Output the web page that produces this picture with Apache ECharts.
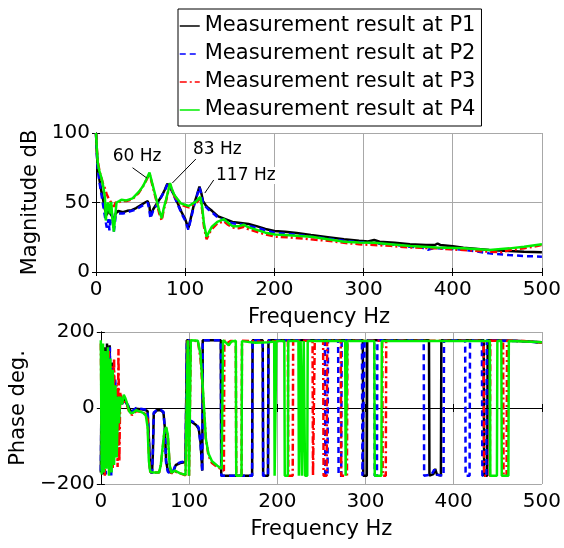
<!DOCTYPE html>
<html><head><meta charset="utf-8">
<script src="https://cdn.jsdelivr.net/npm/echarts@6/dist/echarts.min.js"></script>
<style>html,body{margin:0;padding:0;background:#fff}#c{width:564px;height:548px}</style>
</head><body><div id="c"></div>
<script>
const seriesNames = ['Measurement result at P1','Measurement result at P2','Measurement result at P3','Measurement result at P4'];
const xTicks = [0,100,200,300,400,500];
const magTicks = [0,50,100];
const phaseTicks = [-200,0,200];

const magP1 = [[0,100],[1,85],[2,75],[4,66],[6,58],[8,52],[10,45],[12,41],[14,44],[16,42],[18,40],[20,37],[22,42],[25,44],[30,43],[35,44],[40,44.5],[45,46],[50,48],[55,50],[58,51],[60,47],[61,40],[62,41],[64,45],[67,48],[70,51],[74,55],[77,59],[80,63.5],[82,62],[84,61],[88,55],[92,49],[96,43],[100,38],[103.5,31.5],[106,38],[110,49],[113,55],[116,61.5],[118,57],[120,51],[123,48],[126,46],[130,44],[137,40],[145,38],[153,36],[160,35.5],[171,34.5],[180,33],[190,31],[200,29.5],[212,29],[225,28],[241,26.6],[260,25],[278,23.5],[295,22.5],[305,22],[312,23],[318,21.8],[335,21],[352,20],[370,19.5],[380,19.4],[383,20.5],[386,19.5],[400,18.5],[412,17.5],[425,16.8],[441,15.8],[463,15.1],[480,14.6],[500,14.2]];
const magP2 = [[0,100],[1,85],[2,74],[4,64],[6,56],[8,48],[10,40],[11,36],[12,32],[13,34],[14,38],[15,30],[16,36],[18,42],[20,29],[22,40],[25,42],[30,42],[35,43],[40,44],[45,45],[50,47],[55,49],[58,50],[60,44],[61,38.5],[62,39],[64,44],[67,47],[70,50],[74,55],[77,58.5],[80,63],[82,62],[84,60.5],[88,54],[92,48],[96,42],[100,37],[103.5,30.5],[106,37],[110,48],[113,54.5],[116,61],[118,56],[120,50],[123,47],[126,45],[130,43],[137,39],[145,37],[153,35],[160,34.5],[171,33],[180,32],[190,30],[200,28.2],[212,27.5],[225,26.8],[241,25.4],[260,24],[278,22.5],[295,21.5],[312,20.6],[335,19.5],[352,18.2],[365,17.8],[372,16],[374,15.5],[378,17],[382,17.2],[400,16.5],[412,16],[425,15],[441,13.4],[463,12.2],[480,11.5],[500,11]];
const magP3 = [[0,100],[1,88],[2,80],[4,72],[6,68],[8,63],[10,60],[12,56],[14,53],[16,52],[18,49],[20,47],[22,50],[25,50],[28,51],[34,51],[41,52.5],[48,57],[53,62],[56,65.5],[60,70.5],[63,63],[67,53],[71,42],[73.7,37],[76,45],[78.5,51],[81,58],[83,63],[85,59],[88,54.5],[95,48.5],[104,46.5],[112,49.5],[117,53],[119,45],[121,33],[124,23.5],[127,28],[130,31],[136,35],[143.5,36.5],[148,34],[153,32],[160,31.5],[166,32.5],[170,31],[175,30],[190,27],[201,25.4],[215,25],[241,23.5],[260,22.5],[278,21],[295,20],[312,19.4],[330,18.8],[352,17.7],[382,17],[412,15.8],[441,14.6],[455,14.2],[464,15.8],[480,17],[500,19.4]];
const magP4 = [[0,100],[1,88],[2,78],[4,72],[6,68],[8,62],[10,54],[11,37],[12,45],[13.5,50],[15.5,42],[17,50.5],[18.5,38],[20,29],[21.5,40],[23,50],[26,51],[28.5,52],[34,51.5],[41,53],[48.5,58],[53,62],[56,66],[60,71.5],[63,64],[67,54],[71,44],[73.7,38.6],[76,46],[78.5,52],[81,58.5],[83,64],[85,60],[87.8,55.4],[95,49.4],[104,47.5],[112,50.6],[117,54],[119,47],[121,35],[124,25.4],[127,29],[130,32.6],[136,36],[143.5,38],[148,35.5],[153,33],[160,33],[166,34],[170,32.5],[175,31.4],[190,28.3],[201,27],[216,26.5],[241.5,25.4],[260,23.5],[278.5,21.8],[295,21.3],[312,21],[330,20],[352.6,18.7],[382,17.7],[412,17],[441.5,15.8],[463.7,17],[480,18.2],[500,20]];

const phaseP1 = [[0,-170],[1,120],[2.5,-175],[4,160],[5.5,-150],[7,170],[8.5,-100],[10,165],[11.5,-160],[13,120],[14.5,-130],[16,70],[17.5,-120],[19,40],[20.5,-20],[22,35],[24,10],[26,25],[28,20],[30,8],[33,-5],[36,-12],[40,-2],[45,-3],[50,-5],[53,-8],[54.5,-80],[56,-165],[58,-172],[59,-120],[60,-15],[64,-5],[68,-6],[71,-12],[72.5,-50],[74,-140],[76,-165],[79,-170],[82,-168],[85,-150],[90,-145],[96,-142],[97,-140],[97.5,178],[100,178],[100.5,-35],[104,-38],[108,-45],[111,-55],[113,-90],[115,-165],[115.5,178],[136,178],[136.5,-178],[171.5,-178],[172,178],[183.5,178],[184,-178],[189.5,-178],[190,178],[297,178],[297.5,-178],[301.5,-178],[302,178],[372,178],[372.5,-178],[377,-174],[379,-160],[381,-175],[385.5,-178],[386,178],[434,178],[434.5,-178],[438,-178],[438.5,178],[470,177],[500,173]];
const phaseP2 = [[0,-165],[1.2,140],[2.8,-170],[4.3,130],[5.8,-175],[7.3,150],[8.8,-140],[10.3,160],[11.8,-178],[13.3,110],[14.8,-140],[16.3,80],[17.8,-130],[19.3,45],[20.8,-30],[22,30],[24,12],[27,22],[30,10],[33,-2],[36,-8],[40,0],[45,-2],[50,-4],[53,-6],[54.5,-85],[56,-166],[58,-172],[59,-110],[60,-12],[64,-4],[68,-5],[71,-10],[72.5,-55],[74,-145],[76,-168],[79,-172],[82,-166],[85,-148],[90,-143],[96,-140],[97,-138],[97.5,178],[100,178],[100.5,-32],[104,-36],[108,-42],[111,-52],[113,-95],[115,-168],[115.5,178],[136,178],[136.5,-178],[171.5,-178],[172,178],[183.5,178],[184,-178],[189.5,-178],[190,178],[254,178],[254.5,-178],[257,-178],[257.5,178],[269,178],[269.5,-178],[272.5,-178],[273,178],[296,178],[296.5,-178],[298.5,-178],[299,178],[310,178],[310.5,-178],[313,-178],[313.5,178],[366,178],[366.5,-178],[375,-175],[378,-162],[381,-176],[388.5,-178],[389,178],[413,178],[413.5,-178],[418,-178],[418.5,178],[432,178],[432.5,-178],[437,-178],[437.5,178],[470,176],[490,174],[500,170]];
const phaseP3 = [[0,170],[1.3,-160],[3,140],[4.5,-178],[6,120],[7.5,-150],[9,150],[10.5,-120],[12,110],[13.5,-160],[15,130],[16.5,-100],[18,60],[19,-155],[20,155],[21,-140],[22,40],[23.5,10],[25,30],[27,15],[30,5],[33,-15],[36,-18],[40,-8],[45,-10],[50,-15],[53,-30],[54.5,-120],[56,-168],[60,-170],[66,-170],[68,-150],[70,-110],[72,-65],[74,-52],[76,-75],[78,-150],[80,-172],[84,-167],[90,-172],[96,-177],[98,-178],[98.5,178],[99.5,178],[100,-178],[101.5,-178],[102,178],[110,176],[113,130],[116,30],[119,-80],[122,-125],[126,-145],[132,-155],[137,-162],[139.5,-165],[140,178],[143,170],[147,176],[153,177],[153.5,-178],[159.5,-178],[160,177],[185,174],[200,176],[212,177],[212.5,-178],[217.5,-178],[218,177],[240,177],[240.5,-178],[242,-178],[242.5,177],[252,177],[252.5,-178],[256,-178],[256.5,177],[272,177],[272.5,-178],[279,-178],[279.5,177],[319,177],[319.5,-178],[323,-178],[323.5,177],[434,177],[434.5,-178],[441,-178],[441.5,177],[456,177],[456.5,-178],[460,-178],[460.5,177],[480,176],[500,172]];
const phaseP4 = [[0,178],[1,-175],[2.5,170],[3.5,-170],[5,150],[6.3,-160],[8,160],[9.3,-178],[10.8,130],[12.2,-170],[13.6,100],[15,-150],[16.5,60],[18,-130],[19.5,30],[20.5,-40],[22,30],[24,10],[26,35],[28,25],[30,10],[32,-8],[34,-14],[37,-12],[40,-6],[44,-9],[48,-13],[51,-20],[53,-50],[54.5,-140],[56,-168],[60,-170],[66,-170],[68,-150],[70,-105],[72,-62],[74,-50],[76,-72],[78,-150],[80,-170],[84,-165],[90,-172],[96,-176],[98,-178],[98.5,178],[99.5,178],[100,-178],[101.5,-178],[102,178],[110,177],[113,140],[116,40],[119,-80],[122,-120],[126,-140],[132,-152],[137,-160],[138,-165],[138.5,178],[142,172],[145,165],[148,175],[153,177],[153.5,-178],[159.5,-178],[160,176],[175,172],[190,173],[196.5,175],[197,-178],[198.5,-178],[199,176],[208,176],[208.5,-178],[212,-178],[212.5,176],[224,176],[224.5,-178],[226,-178],[226.5,176],[227.5,176],[228,-178],[229.5,-178],[230,176],[231,176],[231.5,-178],[234,-178],[234.5,176],[277,176],[277.5,-178],[279,-178],[279.5,176],[310,176],[310.5,-178],[318,-178],[318.5,176],[441,176],[441.5,-178],[449,-178],[449.5,176],[454,176],[454.5,-178],[462,-178],[462.5,176],[480,175],[500,173]];

const annotLabels = ['60 Hz','83 Hz','117 Hz'];
const annotTextAt = [[46,83],[136,88],[168,69.4]];
const annotLineFrom = [[41,75],[112,81.3],[132,66.2]];
const annotLineTo = [[57,67.6],[85.6,64],[122,56.8]];

const FONT = 'DejaVu Sans';
const colors = ['#000000','#0000ff','#ff0000','#00ee00'];
const dashes = ['solid',[6,4],[7,3,2,3],'solid'];
const magData = [magP1,magP2,magP3,magP4];
const phaseData = [phaseP1,phaseP2,phaseP3,phaseP4];

function mkX(grid){
  const base = {type:'value',gridIndex:grid,min:0,max:500,interval:100,
    axisLine:{lineStyle:{color:'#000',width:1}},
    axisTick:{inside:true,length:4,lineStyle:{color:'#000'}}};
  return [
    Object.assign({},base,{position:'bottom',
      axisLabel:{color:'#000',fontSize:20,fontFamily:FONT,margin:8},
      splitLine:{show:true,lineStyle:{color:'#a8a8a8',width:1}},
      name:'Frequency Hz',nameLocation:'middle',nameGap:35,
      nameTextStyle:{color:'#000',fontSize:21,fontFamily:FONT}}),
    Object.assign({},base,{position:'top',axisLabel:{show:false},splitLine:{show:false}})
  ];
}
function mkY(grid,min,max,interval,name,gap){
  const base = {type:'value',gridIndex:grid,min:min,max:max,interval:interval,
    axisLine:{show:true,lineStyle:{color:'#000',width:1}},
    axisTick:{show:true,inside:true,length:4,lineStyle:{color:'#000'}}};
  return [
    Object.assign({},base,{position:'left',
      axisLabel:{color:'#000',fontSize:20,fontFamily:FONT,margin:6,
        formatter:v=>String(v).replace('-','\u2212')},
      splitLine:{show:true,lineStyle:{color:'#a8a8a8',width:1}},
      name:name,nameLocation:'middle',nameGap:gap,
      nameTextStyle:{color:'#000',fontSize:21,fontFamily:FONT}}),
    Object.assign({},base,{position:'right',axisLabel:{show:false},splitLine:{show:false}})
  ];
}

const series = [];
for(let i=0;i<4;i++){
  series.push({name:seriesNames[i],type:'line',xAxisIndex:0,yAxisIndex:0,data:magData[i],
    symbol:'none',legendIcon:'rect',lineStyle:{color:colors[i],width:2.5,type:dashes[i]},itemStyle:{color:colors[i]},z:2+i});
}
for(let i=0;i<4;i++){
  series.push({name:seriesNames[i],type:'line',xAxisIndex:2,yAxisIndex:2,data:phaseData[i],
    symbol:'none',legendIcon:'rect',lineStyle:{color:colors[i],width:2.5,type:dashes[i]},itemStyle:{color:colors[i]},z:2+i});
}

const chart = echarts.init(document.getElementById('c'),null,{renderer:'canvas'});
chart.setOption({
  animation:false,
  backgroundColor:'#fff',
  grid:[{left:96,top:133,width:450,height:139},{left:96,top:332,width:450,height:152}],
  xAxis:[...mkX(0),...mkX(1)],
  yAxis:[...mkY(0,0,100,50,'Magnitude dB',49),...mkY(1,-200,200,200,'Phase deg.',60)],
  legend:{orient:'vertical',left:178,top:9,itemWidth:20,itemHeight:14,itemGap:6,
    padding:[6,6,5,1],borderColor:'#000',borderWidth:1,backgroundColor:'#fff',
    lineStyle:{width:1.5},
    itemStyle:{color:'rgba(0,0,0,0)',borderWidth:0,opacity:0},
    textStyle:{fontSize:21,fontFamily:FONT,color:'#000',lineHeight:22},
    data:seriesNames},
  series:series
});

const g = [];
for(let i=0;i<annotLabels.length;i++){
  const t = chart.convertToPixel({gridIndex:0}, annotTextAt[i]);
  const a = chart.convertToPixel({gridIndex:0}, annotLineFrom[i]);
  const b = chart.convertToPixel({gridIndex:0}, annotLineTo[i]);
  g.push({type:'text',x:t[0],y:t[1],z:100,style:{text:annotLabels[i],fill:'#000',font:'17px "DejaVu Sans"',align:'center',verticalAlign:'middle',backgroundColor:'#fff'}});
  g.push({type:'line',z:100,shape:{x1:a[0],y1:a[1],x2:b[0],y2:b[1]},style:{stroke:'#000',lineWidth:1}});
}
chart.setOption({graphic:g});
</script></body></html>
